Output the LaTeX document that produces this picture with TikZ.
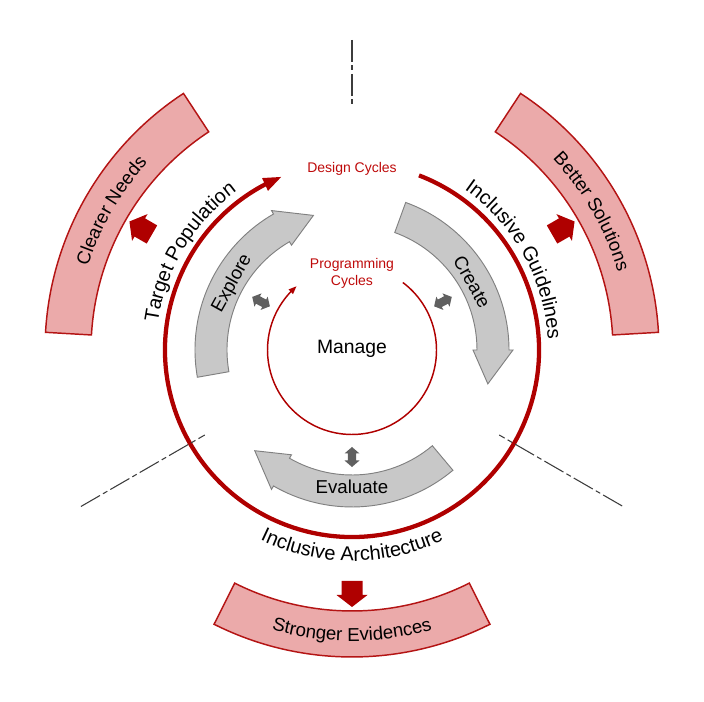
\documentclass[tikz,border=0pt]{standalone}
\usepackage{fontspec}
\setmainfont{Liberation Sans}
\usetikzlibrary{arrows.meta,bending,decorations.text}
\definecolor{dred}{RGB}{175,0,0}
\definecolor{tred}{RGB}{190,10,10}
\definecolor{bandfill}{RGB}{235,170,170}
\definecolor{bandline}{RGB}{180,20,20}
\definecolor{armfill}{RGB}{200,200,200}
\definecolor{armline}{RGB}{128,128,128}
\definecolor{dblfill}{RGB}{96,96,96}
\definecolor{sepcol}{RGB}{60,60,60}
\newcommand\bandfont{\fontsize{14}{17}\selectfont}
\newcommand\ringfont{\fontsize{15}{18}\selectfont}
\begin{document}
\begin{tikzpicture}[x=0.75pt,y=0.75pt,
  band/.style={fill=bandfill,draw=bandline,line width=1.1pt,line join=miter},
  armshape/.style={fill=armfill,draw=armline,line width=0.7pt,line join=miter},
  dblarrow/.style={fill=dblfill},
  redblock/.style={fill=dred},
  sepline/.style={draw=sepcol,line width=0.8pt,dash pattern=on 16.5pt off 2.6pt on 3.75pt off 2.6pt},
  armtext/.style={font=\fontsize{14}{17}\selectfont,text=black},
  centretext/.style={font=\fontsize{14.5}{17}\selectfont,text=black},
  smalltext/.style={font=\fontsize{10.5}{12.75}\selectfont,text=tred,align=center}
]
\useasboundingbox (0,0) rectangle (704,702);
\begin{scope}[shift={(352,352)}]
% outer bands
\draw[band] (123.3:261) arc[start angle=123.3,end angle=176.7,radius=261] -- (176.7:307) arc[start angle=176.7,end angle=123.3,radius=307] -- cycle;
\draw[band] (3.3:261) arc[start angle=3.3,end angle=56.7,radius=261] -- (56.7:307) arc[start angle=56.7,end angle=3.3,radius=307] -- cycle;
\draw[band] (243.3:261) arc[start angle=243.3,end angle=296.7,radius=261] -- (296.7:307) arc[start angle=296.7,end angle=243.3,radius=307] -- cycle;
\path[decorate,decoration={text along path,text align=center,text={|\bandfont|Clearer Needs}}] (176:277) arc[start angle=176,end angle=124,radius=277];
\path[decorate,decoration={text along path,text align=center,text={|\bandfont|Better Solutions}}] (56:277) arc[start angle=56,end angle=4,radius=277];
\path[decorate,decoration={text along path,text align=center,text={|\bandfont|Stronger Evidences}}] (244:291) arc[start angle=244,end angle=296,radius=291];
% red block arrows
\foreach \a in {150,30,270}{
  \fill[redblock,shift={(\a:244)},rotate=\a] (-13,-10.5) -- (1,-10.5) -- (1,-15.5) -- (13,0) -- (1,15.5) -- (1,10.5) -- (-13,10.5) -- cycle;
}
% design cycle ring
\draw[dred,line width=3.2pt,-{Triangle[length=14pt,width=9.5pt]}] (69:187) arc[start angle=69,end angle=-248,radius=187];
% programming cycle ring
\draw[dred,line width=1.1pt,-{Triangle[length=6pt,width=4.5pt]}] (53:84.5) arc[start angle=53,end angle=-229,radius=84.5];
% ring labels
\path[decorate,decoration={text along path,text align=center,text={|\ringfont|Target Population}}] (179:196) arc[start angle=179,end angle=119,radius=196];
\path[decorate,decoration={text along path,text align=center,text={|\ringfont|Inclusive Guidelines}}] (61:196) arc[start angle=61,end angle=-3,radius=196];
\path[decorate,decoration={text along path,text align=center,text={|\ringfont|Inclusive Architecture}}] (235:211) arc[start angle=235,end angle=305,radius=211];
% gray curved arrows
\draw[armshape] (190:157) arc[start angle=190,end angle=120,radius=157] -- (120:161) -- (106:140) -- (120:121) -- (120:125) arc[start angle=120,end angle=190,radius=125] -- cycle;
\draw[armshape] (70:157) arc[start angle=70,end angle=0,radius=157] -- (0:161) -- (-14:140) -- (0:121) -- (0:125) arc[start angle=0,end angle=70,radius=125] -- cycle;
\draw[armshape] (-50:157) arc[start angle=-50,end angle=-120,radius=157] -- (-120:161) -- (-134:140) -- (-120:121) -- (-120:125) arc[start angle=-120,end angle=-50,radius=125] -- cycle;
\node[armtext,rotate=61] (explore) at (151:137) {Explore};
\node[armtext,rotate=-60.5] (create) at (29.5:138) {Create};
\node[armtext] (evaluate) at (270:137) {Evaluate};
% small double arrows
\foreach \a/\r in {152/103,28/103,270/107}{
  \fill[dblarrow,shift={(\a:\r)},rotate=\a] (10,0) -- (3.5,7.5) -- (3.5,4.2) -- (-3.5,4.2) -- (-3.5,7.5) -- (-10,0) -- (-3.5,-7.5) -- (-3.5,-4.2) -- (3.5,-4.2) -- (3.5,-7.5) -- cycle;
}
% centre texts
\node[smalltext] (design) at (90:181) {Design Cycles};
\node[smalltext] (prog) at (90:77) {Programming\\Cycles};
\node[centretext] (manage) at (0,1) {Manage};
% separators
\draw[sepline] (90:310) -- (90:243);
\draw[sepline] (210:313) -- (210:170);
\draw[sepline] (330:312) -- (330:170);
\end{scope}
\end{tikzpicture}
\end{document}
